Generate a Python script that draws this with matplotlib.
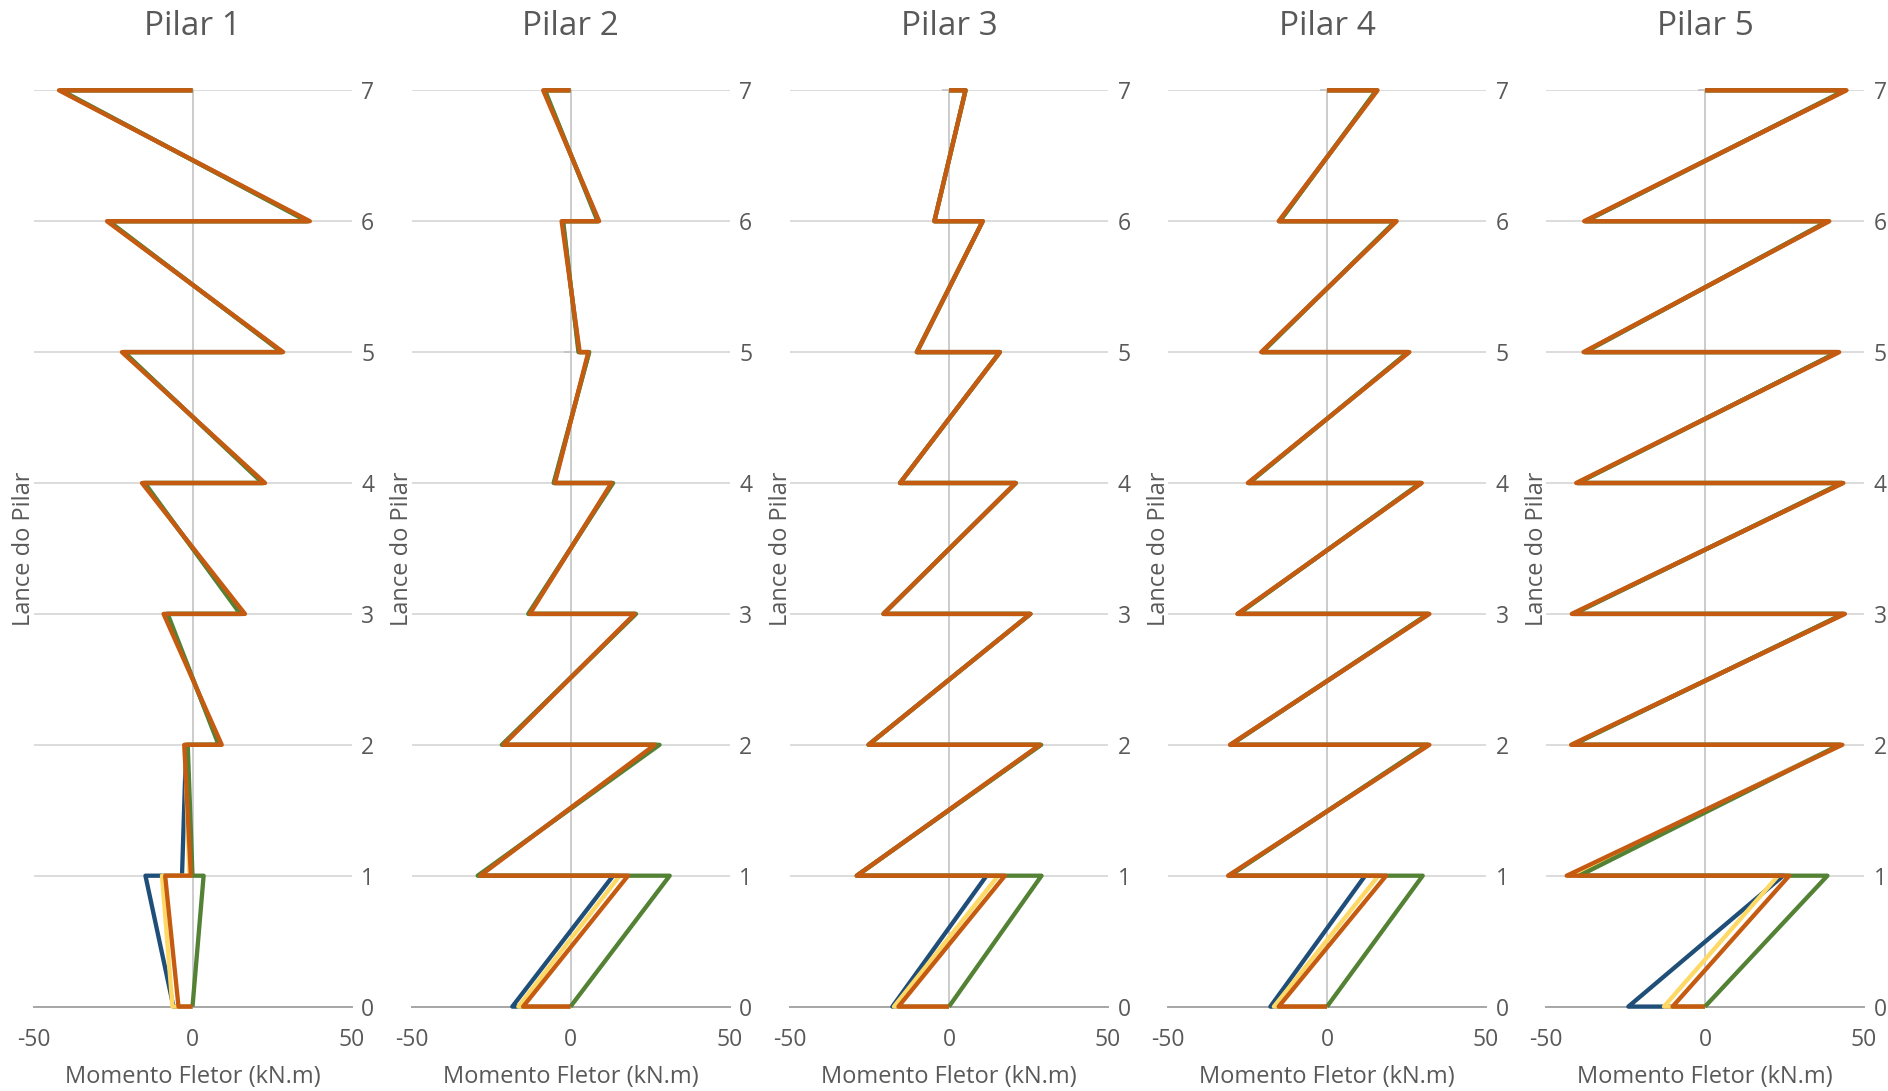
import matplotlib
matplotlib.use("Agg")
import matplotlib.pyplot as plt

plt.rcParams['font.family'] = ['Open Sans', 'DejaVu Sans']

TEXT = "#595959"

PILARES = ["Pilar 1", "Pilar 2", "Pilar 3", "Pilar 4", "Pilar 5"]
LANCES = [0, 1, 2, 3, 4, 5, 6, 7]
X_TICKS = [-50, 0, 50]

# Series order: azul, amarelo, verde, laranja (drawn in this order)
CORES = ["#1F4E79", "#FFD966", "#548235", "#C55A11"]

# Bending moment (kN.m) at the base and at the top of each lance 1..7
PILAR1_BASE = [
    [-6.0, -3.3, 8.6, 15.6, 22.3, 28.2, 36.4],
    [-6.3, -1.0, 8.6, 15.6, 22.3, 28.2, 36.4],
    [0.0, 0.0, 8.2, 15.0, 22.0, 28.0, 36.0],
    [-4.4, -0.5, 9.2, 16.5, 22.8, 28.5, 36.9],
]
PILAR1_TOPO = [
    [-14.8, -2.0, -8.3, -15.4, -21.8, -26.6, -41.6],
    [-9.6, -2.4, -8.3, -15.4, -21.8, -26.6, -41.6],
    [3.5, -1.5, -7.8, -15.0, -21.5, -26.3, -41.3],
    [-8.6, -2.6, -9.1, -15.9, -22.2, -26.9, -42.0],
]

PILAR2_BASE = [
    [-18.3, -28.8, -21.3, -13.0, -5.1, 2.7, 8.8],
    [-16.4, -28.8, -21.3, -13.0, -5.1, 2.7, 8.8],
    [0.0, -29.2, -21.6, -13.3, -5.3, 2.5, 8.5],
    [-14.9, -28.4, -21.1, -12.8, -4.9, 2.9, 9.0],
]
PILAR2_TOPO = [
    [13.4, 27.0, 20.4, 13.1, 5.8, -2.5, -8.3],
    [15.5, 27.0, 20.4, 13.1, 5.8, -2.5, -8.3],
    [31.2, 28.0, 20.6, 13.4, 5.9, -2.3, -8.0],
    [18.1, 26.5, 20.2, 12.9, 5.6, -2.8, -8.6],
]

PILAR3_BASE = [
    [-17.8, -29.0, -25.3, -20.6, -15.4, -10.1, -4.6],
    [-17.3, -29.0, -25.3, -20.6, -15.4, -10.1, -4.6],
    [0.0, -29.0, -25.3, -20.6, -15.4, -10.1, -4.6],
    [-15.9, -29.0, -25.3, -20.6, -15.4, -10.1, -4.6],
]
PILAR3_TOPO = [
    [11.8, 28.8, 25.6, 21.0, 16.0, 10.6, 5.2],
    [15.5, 28.8, 25.6, 21.0, 16.0, 10.6, 5.2],
    [29.1, 29.0, 25.6, 21.0, 16.0, 10.6, 5.2],
    [17.6, 28.6, 25.6, 21.0, 16.0, 10.6, 5.2],
]

PILAR4_BASE = [
    [-17.8, -30.9, -30.4, -28.0, -24.7, -20.5, -15.0],
    [-16.7, -30.9, -30.4, -28.0, -24.7, -20.5, -15.0],
    [0.0, -30.6, -30.2, -27.8, -24.5, -20.3, -14.8],
    [-15.2, -31.1, -30.5, -28.2, -24.9, -20.7, -15.2],
]
PILAR4_TOPO = [
    [12.0, 31.9, 32.0, 29.6, 25.7, 21.7, 15.7],
    [16.2, 31.9, 32.0, 29.6, 25.7, 21.7, 15.7],
    [30.1, 31.6, 31.8, 29.4, 25.5, 21.5, 15.5],
    [18.6, 32.2, 32.2, 29.8, 25.9, 21.9, 15.9],
]

PILAR5_BASE = [
    [-24.1, -42.5, -41.8, -41.6, -40.2, -37.9, -37.7],
    [-12.9, -42.5, -41.8, -41.6, -40.2, -37.9, -37.7],
    [0.0, -39.5, -41.5, -41.3, -40.0, -37.7, -37.5],
    [-10.2, -43.5, -42.1, -41.9, -40.5, -38.2, -38.0],
]
PILAR5_TOPO = [
    [24.6, 42.6, 43.7, 43.2, 41.9, 38.8, 44.2],
    [23.0, 42.6, 43.7, 43.2, 41.9, 38.8, 44.2],
    [38.5, 42.4, 43.5, 43.0, 41.7, 38.6, 44.0],
    [26.5, 43.2, 44.0, 43.5, 42.2, 39.1, 44.5],
]

BASES = [PILAR1_BASE, PILAR2_BASE, PILAR3_BASE, PILAR4_BASE, PILAR5_BASE]
TOPOS = [PILAR1_TOPO, PILAR2_TOPO, PILAR3_TOPO, PILAR4_TOPO, PILAR5_TOPO]


def diagrama(base, topo):
    """Moment diagram path: step along each lance from base to top."""
    xs, ys = [0.0], [LANCES[0]]
    for k in range(len(base)):
        xs += [base[k], topo[k]]
        ys += [LANCES[k], LANCES[k + 1]]
    xs.append(0.0)
    ys.append(LANCES[-1])
    return xs, ys


W, H = 1888, 1091
fig = plt.figure(figsize=(W / 100, H / 100), dpi=100)

lefts = [33.5, 411.5, 790, 1168, 1546]
ax_w = 318
y_bottom = 1006.6
y_top = 90.3
ax_h = y_bottom - y_top

for i, nome in enumerate(PILARES):
    ax = fig.add_axes([lefts[i] / W, (H - y_bottom) / H, ax_w / W, ax_h / H])
    ax.set_xlim(-50, 50)
    ax.set_ylim(0, 7)

    for serie in range(4):
        xs, ys = diagrama(BASES[i][serie], TOPOS[i][serie])
        ax.plot(xs, ys, color=CORES[serie], lw=3.1, clip_on=False,
                solid_joinstyle='round', solid_capstyle='butt', zorder=3 + serie)

    # Axes styling
    for s in ['top', 'right']:
        ax.spines[s].set_visible(False)
    ax.spines['left'].set_position(('data', 0))
    ax.spines['left'].set_color('#BFBFBF')
    ax.spines['left'].set_linewidth(1.1)
    ax.spines['left'].set_zorder(2)
    ax.spines['bottom'].set_color('#A6A6A6')
    ax.spines['bottom'].set_linewidth(1.4)
    ax.spines['bottom'].set_zorder(2)

    ax.set_yticks(LANCES)
    ax.set_xticks(X_TICKS)
    ax.set_xticklabels([str(v) for v in X_TICKS])
    ax.tick_params(axis='y', which='both', left=True, right=False,
                   labelleft=False, labelright=True, direction='out',
                   length=5, width=1.1, color='#BFBFBF', pad=2,
                   labelsize=16.5, labelcolor=TEXT)
    ax.tick_params(axis='x', bottom=False, labelsize=16.5, labelcolor=TEXT, pad=12)
    ax.grid(axis='y', color='#D9D9D9', lw=1.3, zorder=0)
    ax.set_axisbelow(True)

    ax.set_xlabel("Momento Fletor (kN.m)", fontsize=17, color=TEXT, labelpad=9)
    ax.set_ylabel("Lance do Pilar", fontsize=17, color=TEXT)
    ax.yaxis.set_label_coords(0.009, 0.5)
    ax.text(0.5, 1 + (y_top - 26.5) / ax_h, nome, transform=ax.transAxes,
            ha='center', va='center', fontsize=24, color=TEXT)

fig.savefig("out.png", dpi=100, facecolor="white")
